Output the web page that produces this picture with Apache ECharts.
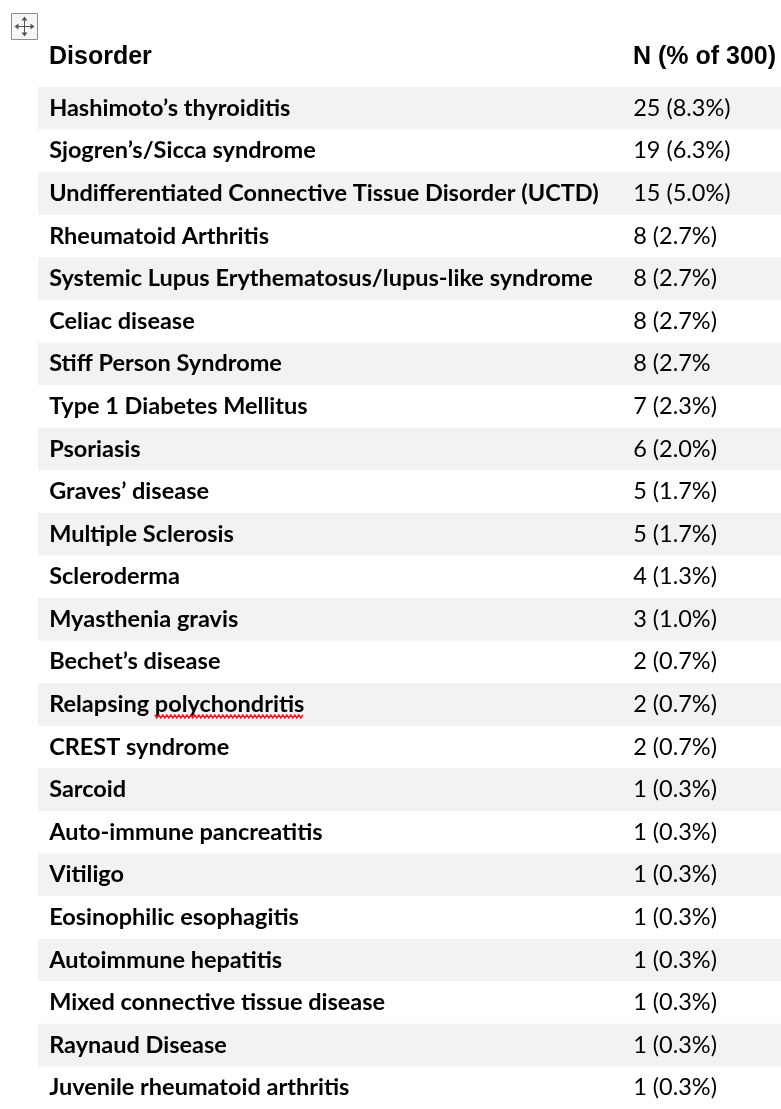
<!DOCTYPE html>
<html lang="en">
<head>
  <meta charset="UTF-8">
  <title>Disorders</title>
  <script src="https://cdn.jsdelivr.net/npm/echarts@6.0.0/dist/echarts.min.js"></script>
  <style>
    html, body { margin: 0; padding: 0; background: #fff; }
    #chart { width: 781px; height: 1109px; }
  </style>
</head>
<body>
<div id="chart"></div>
<script>
  var headers = ['Disorder', 'N (% of 300)'];

  var disorders = [
    'Hashimoto\u2019s thyroiditis',
    'Sjogren\u2019s/Sicca syndrome',
    'Undifferentiated Connective Tissue Disorder (UCTD)',
    'Rheumatoid Arthritis',
    'Systemic Lupus Erythematosus/lupus-like syndrome',
    'Celiac disease',
    'Stiff Person Syndrome',
    'Type 1 Diabetes Mellitus',
    'Psoriasis',
    'Graves\u2019 disease',
    'Multiple Sclerosis',
    'Scleroderma',
    'Myasthenia gravis',
    'Bechet\u2019s disease',
    'Relapsing polychondritis',
    'CREST syndrome',
    'Sarcoid',
    'Auto-immune pancreatitis',
    'Vitiligo',
    'Eosinophilic esophagitis',
    'Autoimmune hepatitis',
    'Mixed connective tissue disease',
    'Raynaud Disease',
    'Juvenile rheumatoid arthritis'
  ];

  var nLabels = [
    '25 (8.3%)', '19 (6.3%)', '15 (5.0%)', '8 (2.7%)', '8 (2.7%)', '8 (2.7%)',
    '8 (2.7%', '7 (2.3%)', '6 (2.0%)', '5 (1.7%)', '5 (1.7%)', '4 (1.3%)',
    '3 (1.0%)', '2 (0.7%)', '2 (0.7%)', '2 (0.7%)', '1 (0.3%)', '1 (0.3%)',
    '1 (0.3%)', '1 (0.3%)', '1 (0.3%)', '1 (0.3%)', '1 (0.3%)', '1 (0.3%)'
  ];

  // word the spell checker underlined
  var misspelt = 'polychondritis';

  // where each column's text starts, as a share of the table width
  var colStart = [0.015, 0.801];

  var bodyFont = 'Lato';
  var headFont = 'Liberation Sans';
  var bodySize = 23.5;

  var measureCtx = document.createElement('canvas').getContext('2d');
  function textWidth(str, weight) {
    measureCtx.font = weight + ' ' + bodySize + 'px ' + bodyFont;
    return measureCtx.measureText(str).width;
  }

  function squiggle(x0, x1, y) {
    var pts = [];
    var up = true;
    for (var x = x0; x <= x1; x += 2) {
      pts.push([x, up ? y - 1.5 : y + 1.5]);
      up = !up;
    }
    return {
      type: 'polyline',
      shape: { points: pts },
      style: { stroke: '#e01b12', lineWidth: 1.4, fill: null }
    };
  }

  function renderRow(params, api) {
    var i = params.dataIndex;
    var cs = params.coordSys;
    var center = api.coord([0, i]);
    var band = api.size([0, 1])[1];
    var x0 = api.coord([colStart[0], i])[0];
    var children = [];
    if (i % 2 === 0) {
      children.push({
        type: 'rect',
        shape: { x: cs.x, y: center[1] - band / 2, width: cs.width, height: band },
        style: { fill: '#f2f2f2' }
      });
    }
    children.push({
      type: 'text',
      x: x0,
      y: center[1],
      style: {
        text: disorders[i], fill: '#000',
        fontFamily: bodyFont, fontWeight: 'bold', fontSize: bodySize,
        verticalAlign: 'middle'
      }
    });
    var at = disorders[i].indexOf(misspelt);
    if (at >= 0) {
      var s = x0 + textWidth(disorders[i].slice(0, at), 'bold');
      var e = s + textWidth(misspelt, 'bold');
      children.push(squiggle(s, e, center[1] + 12));
    }
    children.push({
      type: 'text',
      x: api.coord([colStart[1], i])[0],
      y: center[1],
      style: {
        text: nLabels[i], fill: '#000',
        fontFamily: bodyFont, fontSize: bodySize,
        verticalAlign: 'middle'
      }
    });
    return { type: 'group', children: children };
  }

  var chart = echarts.init(document.getElementById('chart'));

  chart.setOption({
    backgroundColor: '#fff',
    animation: false,
    title: [
      {
        text: headers[0], left: 49, top: 45, padding: 0,
        textStyle: { fontFamily: headFont, fontSize: 25, fontWeight: 'bold', color: '#000' }
      },
      {
        text: headers[1], left: 633, top: 45, padding: 0,
        textStyle: { fontFamily: headFont, fontSize: 25, fontWeight: 'bold', color: '#000' }
      }
    ],
    // table move handle in the top-left corner
    graphic: [
      {
        type: 'group', left: 11, top: 13,
        children: [
          { type: 'rect', shape: { x: 0, y: 0, width: 26, height: 26 },
            style: { fill: '#f6f6f6', stroke: '#8c8c8c', lineWidth: 1 } },
          { type: 'line', shape: { x1: 5, y1: 13, x2: 21, y2: 13 }, style: { stroke: '#555', lineWidth: 1 } },
          { type: 'line', shape: { x1: 13, y1: 5, x2: 13, y2: 21 }, style: { stroke: '#555', lineWidth: 1 } },
          { type: 'polygon', shape: { points: [[3, 13], [7, 10], [7, 16]] }, style: { fill: '#555' } },
          { type: 'polygon', shape: { points: [[23, 13], [19, 10], [19, 16]] }, style: { fill: '#555' } },
          { type: 'polygon', shape: { points: [[13, 3], [10, 7], [16, 7]] }, style: { fill: '#555' } },
          { type: 'polygon', shape: { points: [[13, 23], [10, 19], [16, 19]] }, style: { fill: '#555' } }
        ]
      }
    ],
    grid: { left: 38, right: 0, top: 87, bottom: 0 },
    xAxis: { type: 'value', min: 0, max: 1, show: false },
    yAxis: { type: 'category', data: disorders, inverse: true, show: false },
    series: [{
      type: 'custom',
      renderItem: renderRow,
      clip: false,
      data: disorders.map(function (d, i) { return [0, i]; })
    }]
  });
</script>
</body>
</html>
